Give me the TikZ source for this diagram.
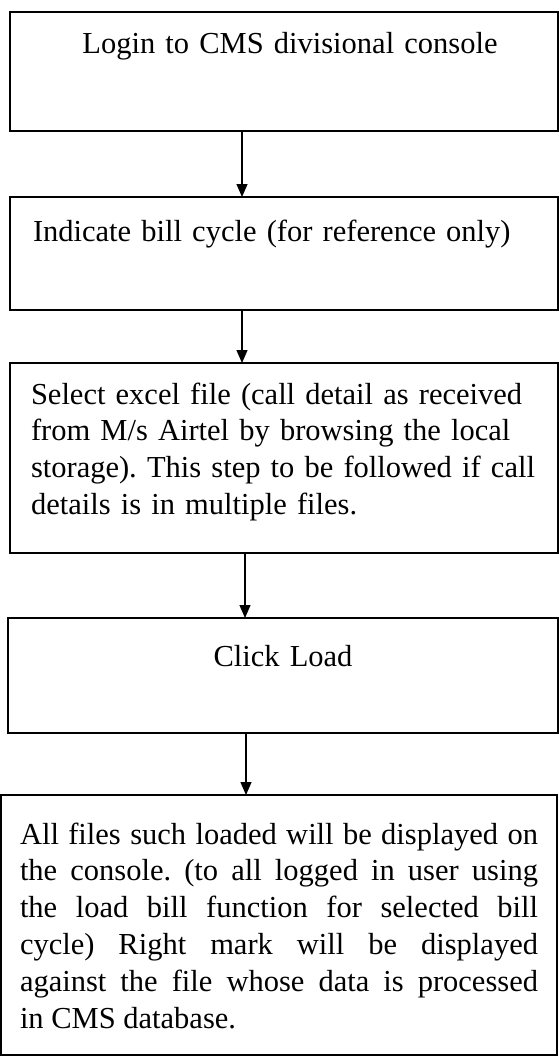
\documentclass[tikz,border=0pt]{standalone}
\usepackage{fontspec}
\setmainfont{Liberation Serif}
\usetikzlibrary{arrows.meta}
\frenchspacing
\begin{document}
\begin{tikzpicture}[x=1pt, y=-1pt,
    stepbox/.style={draw, line width=1.3pt, rectangle, anchor=north west, outer sep=0pt,
      inner ysep=0pt, font=\fontsize{30.5}{36.8}\selectfont},
    flow/.style={line width=1.3pt, -{Triangle[length=13pt, width=11pt]}}]
    \useasboundingbox (0,0) rectangle (559,1057);
    \node[stepbox, inner xsep=24pt, text width=500pt, text height=42pt, text depth=77pt, align=center] (login) at (10,12) {\hspace*{12pt}Login to CMS divisional console};
    \node[stepbox, inner xsep=21pt, text width=506pt, text height=44pt, text depth=69pt, align=left] (cycle) at (10,197) {\hspace*{2pt}Indicate bill cycle (for reference only)};
    \node[stepbox, inner xsep=21pt, text width=506pt, text height=41pt, text depth=149pt, align=left] (excel) at (10,363) {Select excel file (call detail as received\\ from M/s Airtel by browsing the local\\ storage). This step to be followed if call\\ details is in multiple files.};
    \node[stepbox, inner xsep=24pt, text width=502pt, text height=48pt, text depth=67pt, align=center] (load) at (8,618) {Click Load};
    \node[stepbox, inner xsep=19pt, text width=518pt, text height=49pt, text depth=211pt, align=justify] (shown) at (1,795) {All files such loaded will be displayed on\linebreak the console. (to all logged in user using\linebreak the load bill function for selected bill\linebreak cycle) Right mark will be displayed\linebreak against the file whose data is processed\linebreak in CMS database.};
    \draw[flow] ([xshift=-42pt]login.south) -- ([xshift=-42pt]cycle.north);
    \draw[flow] ([xshift=-42pt]cycle.south) -- ([xshift=-42pt]excel.north);
    \draw[flow] ([xshift=-39pt]excel.south) -- ([xshift=-38pt]load.north);
    \draw[flow] ([xshift=-37pt]load.south) -- ([xshift=-33pt]shown.north);
\end{tikzpicture}
\end{document}
